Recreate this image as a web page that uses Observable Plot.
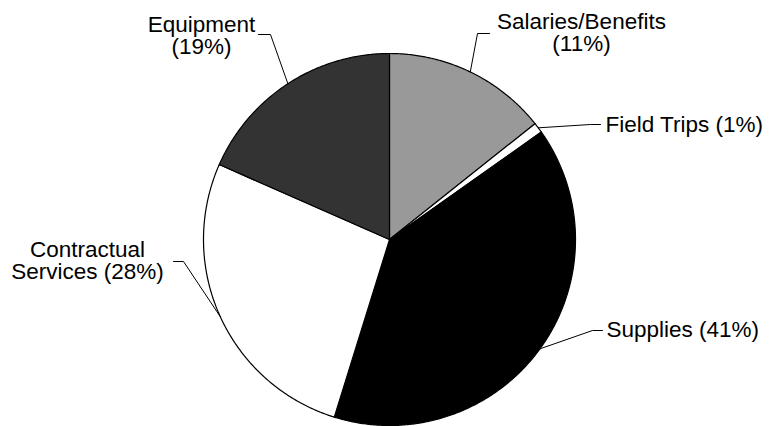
<!DOCTYPE html>
<html><head><meta charset="utf-8">
<script src="https://cdn.jsdelivr.net/npm/d3@7"></script>
<script src="https://cdn.jsdelivr.net/npm/@observablehq/plot@0.6"></script>
<style>html,body{margin:0;padding:0;background:#fff;}</style>
</head><body><div id="chart"></div>
<script>
// ---- data ----
const categories = ["Salaries/Benefits", "Field Trips", "Supplies", "Contractual Services", "Equipment"];
const values = [14.3, 0.9, 39.6, 26.8, 18.4];           // slice sizes as drawn
const labels = ["Salaries/Benefits\n(11%)", "Field Trips (1%)", "Supplies (41%)", "Contractual\nServices (28%)", "Equipment\n(19%)"];
const fills = ["#999999", "#ffffff", "#000000", "#ffffff", "#333333"];

// ---- layout (pixels) ----
const W = 772, H = 426, cx = 389, cy = 239, R = 186;
const labelLayout = [
  {elbow: [477, 33], end: [489, 33], tx: 581, ty: 32, anchor: "middle"},
  {elbow: [590, 124], end: [600, 124], tx: 605, ty: 124, anchor: "start"},
  {elbow: [592, 330], end: [602, 330], tx: 606, ty: 329, anchor: "start"},
  {elbow: [183, 261], end: [173, 261], tx: 87, ty: 260, anchor: "middle"},
  {elbow: [270, 34], end: [258, 34], tx: 201, ty: 35, anchor: "middle"}
];

const rows = categories.map((c, i) => ({cat: c, value: values[i], label: labels[i], fill: fills[i], ...labelLayout[i]}));
const arcs = d3.pie().sort(null).value(d => d.value)(rows);

const px = a => cx + R * Math.sin(a);
const py = a => cy - R * Math.cos(a);

const slicePts = [];
arcs.forEach(a => {
  const d = a.data;
  slicePts.push({cat: d.cat, fill: d.fill, x: cx, y: cy});
  const n = Math.max(2, Math.ceil((a.endAngle - a.startAngle) / (Math.PI / 360)));
  for (let k = 0; k <= n; k++) {
    const t = a.startAngle + (a.endAngle - a.startAngle) * k / n;
    slicePts.push({cat: d.cat, fill: d.fill, x: px(t), y: py(t)});
  }
});

const leaderPts = [];
arcs.forEach(a => {
  const d = a.data, m = (a.startAngle + a.endAngle) / 2;
  leaderPts.push({cat: d.cat, x: px(m), y: py(m)});
  leaderPts.push({cat: d.cat, x: d.elbow[0], y: d.elbow[1]});
  leaderPts.push({cat: d.cat, x: d.end[0], y: d.end[1]});
});

const font = {fontSize: 22.5, lineHeight: 0.98, fill: "black", lineAnchor: "middle"};

const chart = Plot.plot({
  width: W, height: H,
  margin: 0,
  x: {domain: [0, W], range: [0, W], axis: null},
  y: {domain: [0, H], range: [0, H], axis: null},
  color: {type: "identity"},
  style: {background: "#fff", fontFamily: "'Liberation Sans', Arial, sans-serif"},
  marks: [
    Plot.line(slicePts, {x: "x", y: "y", z: "cat", fill: "fill", stroke: "black", strokeWidth: 1.2, curve: "linear-closed"}),
    Plot.line(leaderPts, {x: "x", y: "y", z: "cat", stroke: "black", strokeWidth: 1}),
    Plot.text(rows.filter(d => d.anchor === "middle"), {x: "tx", y: "ty", text: "label", textAnchor: "middle", ...font}),
    Plot.text(rows.filter(d => d.anchor === "start"), {x: "tx", y: "ty", text: "label", textAnchor: "start", ...font})
  ]
});
document.getElementById("chart").appendChild(chart);
</script>
</body></html>
